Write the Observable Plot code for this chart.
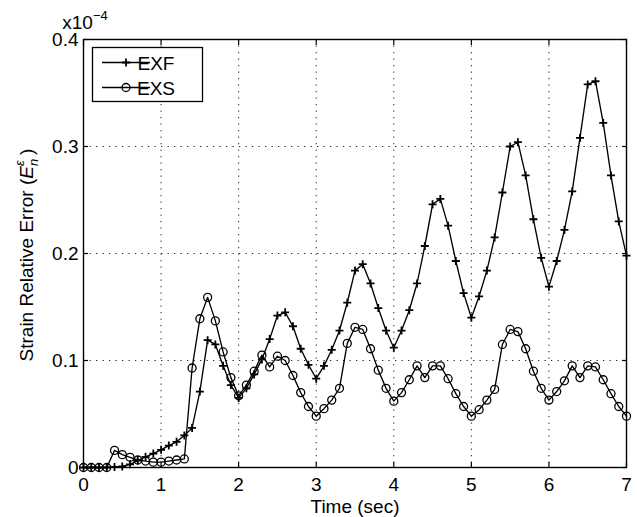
<!DOCTYPE html>
<html><head><meta charset="utf-8">
<script src="https://cdn.jsdelivr.net/npm/d3@7"></script>
<script src="https://cdn.jsdelivr.net/npm/@observablehq/plot@0.6"></script>
<style>body{margin:0;background:#fff}</style>
</head><body><div id="chart"></div>
<script>
const time = [0,0.1,0.2,0.3,0.4,0.5,0.6,0.7,0.8,0.9,1.0,1.1,1.2,1.3,1.4,1.5,1.6,1.7,1.8,1.9,2.0,2.1,2.2,2.3,2.4,2.5,2.6,2.7,2.8,2.9,3.0,3.1,3.2,3.3,3.4,3.5,3.6,3.7,3.8,3.9,4.0,4.1,4.2,4.3,4.4,4.5,4.6,4.7,4.8,4.9,5.0,5.1,5.2,5.3,5.4,5.5,5.6,5.7,5.8,5.9,6.0,6.1,6.2,6.3,6.4,6.5,6.6,6.7,6.8,6.9,7.0];
const exf = [0,0,0,0,0.0005,0.001,0.003,0.0065,0.010,0.013,0.0165,0.0205,0.024,0.030,0.037,0.071,0.119,0.115,0.095,0.077,0.065,0.074,0.087,0.101,0.120,0.142,0.145,0.132,0.111,0.096,0.083,0.095,0.110,0.128,0.154,0.184,0.190,0.172,0.149,0.128,0.112,0.128,0.147,0.172,0.207,0.246,0.251,0.226,0.193,0.163,0.140,0.160,0.184,0.215,0.257,0.300,0.304,0.273,0.232,0.196,0.169,0.193,0.222,0.258,0.308,0.358,0.361,0.322,0.273,0.230,0.198];
const exs = [0,0,0,0,0.016,0.012,0.0095,0.007,0.006,0.005,0.005,0.006,0.007,0.008,0.093,0.139,0.159,0.137,0.108,0.084,0.067,0.077,0.090,0.105,0.094,0.104,0.100,0.086,0.070,0.057,0.048,0.055,0.063,0.074,0.116,0.131,0.129,0.111,0.091,0.074,0.062,0.070,0.082,0.095,0.084,0.095,0.095,0.083,0.069,0.057,0.048,0.054,0.063,0.073,0.115,0.129,0.127,0.111,0.090,0.074,0.063,0.071,0.081,0.095,0.084,0.095,0.094,0.082,0.069,0.057,0.048];
const xTicks = [0,1,2,3,4,5,6,7];
const yTicks = [0,0.1,0.2,0.3,0.4];
const yTickLabels = ["0","0.1","0.2","0.3","0.4"];
const seriesNames = ["EXF","EXS"];
const xLabel = "Time (sec)";
const yLabelMain = "Strain Relative Error (";
const exponentBase = "x10";
const exponentPower = "\u22124";

const exfRows = time.map((t,i)=>({t, v: exf[i]}));
const exsRows = time.map((t,i)=>({t, v: exs[i]}));

const plusSymbol = {draw(ctx, size){const r=Math.sqrt(size/Math.PI); ctx.moveTo(-r,0); ctx.lineTo(r,0); ctx.moveTo(0,-r); ctx.lineTo(0,r);}};
const gridStyle = {stroke: "black", strokeOpacity: 0.85, strokeDasharray: "1.3,5.2", strokeWidth: 1};
const font = "'Liberation Sans', Arial, Helvetica, sans-serif";
const tickOnly = {tickSize: -5, fill: "none", label: null, strokeWidth: 1.2};

const plot = Plot.plot({
  width: 637, height: 517,
  marginLeft: 83, marginRight: 11, marginTop: 39, marginBottom: 50,
  style: {fontFamily: font, fontSize: "19px", color: "black", background: "white"},
  x: {domain: [0, 7]},
  y: {domain: [0, 0.4]},
  marks: [
    Plot.gridX(xTicks, gridStyle),
    Plot.gridY(yTicks, gridStyle),
    Plot.axisX(xTicks, {tickSize: 0, tickPadding: 10, tickFormat: d => String(d), label: null}),
    Plot.axisX(xTicks, tickOnly),
    Plot.axisX(xTicks, {...tickOnly, anchor: "top"}),
    Plot.axisY(yTicks, {tickSize: 0, tickPadding: 5, tickFormat: d => yTickLabels[yTicks.indexOf(d)], label: null}),
    Plot.axisY(yTicks, tickOnly),
    Plot.axisY(yTicks, {...tickOnly, anchor: "right"}),
    Plot.line(exfRows, {x: "t", y: "v", stroke: "black", strokeWidth: 1.35}),
    Plot.dot(exfRows, {x: "t", y: "v", symbol: plusSymbol, r: 4, stroke: "black", fill: "none", strokeWidth: 1.8}),
    Plot.line(exsRows, {x: "t", y: "v", stroke: "black", strokeWidth: 1.35}),
    Plot.dot(exsRows, {x: "t", y: "v", symbol: "circle", r: 4, stroke: "black", fill: "none", strokeWidth: 1.3}),
    Plot.frame({stroke: "black", strokeWidth: 1.4}),
    Plot.text([xLabel], {frameAnchor: "bottom", dy: 39, lineAnchor: "middle", fontSize: 19})
  ]
});
document.getElementById("chart").appendChild(plot);

const svg = d3.select(plot);
// y label with sub/superscript
const yl = svg.append("text")
  .attr("transform", "translate(33,255) rotate(-90)")
  .attr("text-anchor", "middle")
  .attr("font-family", font).attr("font-size", 19).attr("fill", "black");
yl.append("tspan").text(yLabelMain);
yl.append("tspan").attr("font-style", "italic").text("E");
yl.append("tspan").attr("font-style", "italic").attr("font-size", 13).attr("dy", 5).text("n");
yl.append("tspan").attr("font-style", "italic").attr("font-size", 13).attr("dx", -7).attr("dy", -14).text("\u03b5");
yl.append("tspan").attr("dy", 9).text(" )");

// exponent
const ex = svg.append("text").attr("x", 85).attr("y", 29)
  .attr("font-family", font).attr("font-size", 19).attr("fill", "black");
ex.append("tspan").text(exponentBase);
ex.append("tspan").attr("font-size", 13).attr("dy", -9).text(exponentPower);

// legend
const lg = svg.append("g");
lg.append("rect").attr("x", 92.5).attr("y", 47.5).attr("width", 110).attr("height", 54)
  .attr("fill", "white").attr("stroke", "black").attr("stroke-width", 1.3);
seriesNames.forEach((name, i) => {
  const y = 62.5 + i * 25;
  lg.append("line").attr("x1", 102).attr("x2", 150).attr("y1", y).attr("y2", y).attr("stroke", "black").attr("stroke-width", 1.35);
  if (i === 0) {
    lg.append("path").attr("d", `M122,${y}h8M126,${y-4}v8`).attr("stroke", "black").attr("stroke-width", 1.8);
  } else {
    lg.append("circle").attr("cx", 126).attr("cy", y).attr("r", 4).attr("fill", "none").attr("stroke", "black").attr("stroke-width", 1.3);
  }
  lg.append("text").attr("x", 156).attr("y", y + 7).attr("font-family", font).attr("font-size", 19).attr("fill", "black").text(name);
});
</script>
</body></html>
